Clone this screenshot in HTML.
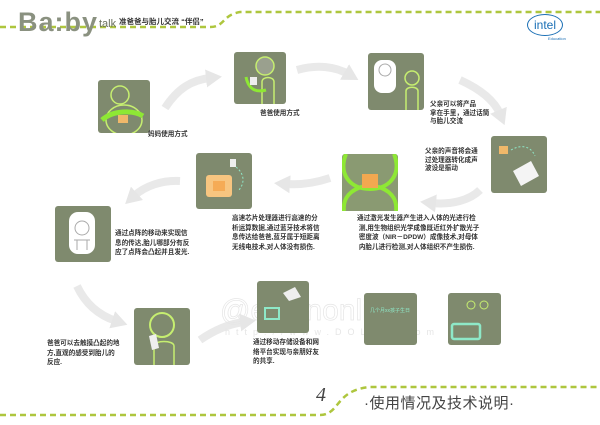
<!DOCTYPE html>
<html><head><meta charset="utf-8"><style>
body{margin:0;width:600px;height:425px;background:#fff;overflow:hidden;position:relative;font-family:"Liberation Sans","Noto Sans CJK SC",sans-serif}
.b{position:absolute;background:#7f8a6e;border-radius:3px}
.t{position:absolute;font-size:6.6px;font-weight:bold;color:#333;line-height:9.5px;white-space:nowrap}
svg{position:absolute;left:0;top:0}
</style></head><body>
<svg width="600" height="425">
<defs><marker id="ah" markerUnits="userSpaceOnUse" markerWidth="16" markerHeight="18" refX="4" refY="9" orient="auto"><path d="M0,0L16,9L0,18z" fill="#e6e6e6"/></marker></defs>
<g fill="none" stroke="#aec63e" stroke-width="2.5" stroke-dasharray="6,4">
<path d="M0,27H210C225,27 222,15 240,12H600"/>
<path d="M0,415H320C340,415 335,390 370,387H600"/>
</g>
<g fill="none" stroke="#e9e9e9" stroke-width="8" marker-end="url(#ah)">
<path d="M165,108C178,88 192,80 210,78"/>
<path d="M297,70C318,64 336,67 348,74"/>
<path d="M460,80C482,90 495,102 500,114"/>
<path d="M480,190C470,200 452,205 432,203"/>
<path d="M330,178C315,183 300,185 286,184"/>
<path d="M180,181C162,180 145,186 134,196"/>
<path d="M77,286C85,303 98,315 116,321"/>
<path d="M200,340C213,331 228,324 244,322"/>
</g>
<text x="220" y="320" font-size="30" fill="none" stroke="#e6e6e6" stroke-width="0.7" font-family="Liberation Sans">@esignonline</text>
<text x="225" y="335" font-size="9" fill="#e6e6e6" letter-spacing="6">http://www.DOLCN.com</text>
</svg>
<div style="position:absolute;left:18px;top:7px;font-size:27px;color:#8a9180;font-weight:bold;letter-spacing:1px;line-height:30px">Ba:by</div>
<div style="position:absolute;left:99px;top:18px;font-size:11px;color:#6b7160">talk</div>
<div style="position:absolute;left:119px;top:16px;font-size:7.5px;font-weight:bold;color:#333">准爸爸与胎儿交流 “伴侣”</div>
<div style="position:absolute;left:527px;top:14px;width:34px;height:20px;border:1.5px solid #1a6fb5;border-radius:50%;color:#1a6fb5;font-size:12px;text-align:center;line-height:20px">intel</div>
<div style="position:absolute;left:548px;top:36px;font-size:4px;color:#1a6fb5">Education</div>

<div class="b" style="left:98px;top:80px;width:52px;height:53px"><svg width="52" height="53"><circle cx="22" cy="15" r="9" fill="none" stroke="#c6ee70" stroke-width="1.5"/><ellipse cx="26" cy="40" rx="18" ry="15" fill="none" stroke="#c6ee70" stroke-width="1.5"/><path d="M4,40C15,30 35,30 45,36" stroke="#8ee834" stroke-width="5" fill="none"/><rect x="20" y="35" width="10" height="8" fill="#f0b86a"/></svg></div>
<div class="b" style="left:234px;top:52px;width:52px;height:52px"><svg width="52" height="52"><circle cx="31" cy="14" r="9" fill="#9aa08e" stroke="#c6ee70" stroke-width="1.5"/><path d="M28,52V30C28,24 40,24 40,30V52" stroke="#c6ee70" stroke-width="1.5" fill="none"/><path d="M12,25C15,40 25,40 32,38" stroke="#8ee834" stroke-width="3" fill="none"/><rect x="16" y="25" width="7" height="8" fill="#eee"/></svg></div>
<div class="b" style="left:368px;top:53px;width:56px;height:57px"><svg width="56" height="57"><rect x="6" y="7" width="22" height="33" rx="8" fill="#fff"/><circle cx="17" cy="17" r="6" fill="none" stroke="#aaa"/><circle cx="44" cy="25" r="7" fill="none" stroke="#c6ee70" stroke-width="1.5"/><path d="M38,57V38C38,33 50,33 50,38V57" stroke="#c6ee70" stroke-width="1.5" fill="none"/></svg></div>
<div class="b" style="left:491px;top:136px;width:56px;height:57px"><svg width="56" height="57"><rect x="8" y="10" width="9" height="8" fill="#f0b86a"/><path d="M20,14C30,8 40,10 44,20" stroke="#8ee8c8" stroke-dasharray="2,2" fill="none"/><path d="M22,35L40,25L48,40L30,50z" fill="#f4f4f4"/></svg></div>
<div class="b" style="left:342px;top:154px;width:56px;height:57px;background:#8a9a72"><svg width="56" height="57"><path d="M4,0C-4,20 8,35 28,35C48,35 60,20 52,0M2,57C0,40 15,32 28,32C41,32 56,40 54,57" stroke="#8ee834" stroke-width="4" fill="none"/><rect x="20" y="20" width="16" height="14" fill="#f2a850"/></svg></div>
<div class="b" style="left:196px;top:153px;width:56px;height:56px"><svg width="56" height="56"><rect x="10" y="22" width="26" height="22" rx="3" fill="#f7c580"/><rect x="17" y="28" width="12" height="10" fill="#f39a3a" opacity=".6"/><rect x="34" y="6" width="6" height="8" fill="#eee"/><path d="M40,14C50,22 48,32 42,38" stroke="#8ee8c8" stroke-dasharray="2,2" fill="none"/></svg></div>
<div class="b" style="left:55px;top:206px;width:56px;height:56px"><svg width="56" height="56"><rect x="14" y="6" width="26" height="42" rx="9" fill="#fff"/><circle cx="27" cy="22" r="7" fill="none" stroke="#aaa"/><path d="M19,34H35M22,34V44M32,34V44" stroke="#aaa" fill="none"/></svg></div>
<div class="b" style="left:134px;top:308px;width:56px;height:57px"><svg width="56" height="57"><circle cx="28" cy="17" r="12" fill="none" stroke="#c6ee70" stroke-width="2"/><path d="M20,57V38C20,32 40,32 40,38V57" stroke="#c6ee70" stroke-width="1.5" fill="none"/><path d="M15,28L22,26L25,40L18,42z" fill="#eee"/></svg></div>
<div class="b" style="left:257px;top:281px;width:52px;height:52px"><svg width="52" height="52"><rect x="8" y="27" width="14" height="11" fill="none" stroke="#8ee8c8" stroke-width="2"/><path d="M26,12L38,6L44,16L32,20z" fill="#eee"/></svg></div>
<div class="b" style="left:364px;top:293px;width:53px;height:52px"><div style="font-size:5px;color:#8ee8c8;margin:14px 0 0 6px">几个月xx孩子生日</div></div>
<div class="b" style="left:448px;top:293px;width:53px;height:52px"><svg width="53" height="52"><rect x="4" y="31" width="28" height="15" rx="2" fill="none" stroke="#8ee8c8" stroke-width="2.5"/><circle cx="23" cy="12" r="4" fill="none" stroke="#c6ee70"/><circle cx="36" cy="12" r="4" fill="none" stroke="#c6ee70"/></svg></div>

<div class="t" style="left:148px;top:130px">妈妈使用方式</div>
<div class="t" style="left:260px;top:109px">爸爸使用方式</div>
<div class="t" style="left:430px;top:101px;line-height:8.5px">父亲可以将产品<br>拿在手里，通过话筒<br>与胎儿交流</div>
<div class="t" style="left:425px;top:148px;line-height:8.5px">父亲的声音将会通<br>过处理器转化成声<br>波设是振动</div>
<div class="t" style="left:357px;top:214px">通过激光发生器产生进入人体的光进行检<br>&nbsp;测,用生物组织光学成像既近红外扩散光子<br>&nbsp;密度波（NIR－DPDW）成像技术,对母体<br>&nbsp;内胎儿进行检测,对人体组织不产生损伤.</div>
<div class="t" style="left:232px;top:214px">高速芯片处理器进行高速的分<br>析运算数据,通过蓝牙技术将信<br>息传达给爸爸,蓝牙属于短距离<br>无线电技术,对人体没有损伤.</div>
<div class="t" style="left:115px;top:229px">通过点阵的移动来实现信<br>息的传达,胎儿哪部分有反<br>应了点阵会凸起并且发光.</div>
<div class="t" style="left:47px;top:339px">爸爸可以去触摸凸起的地<br>方,直观的感受到胎儿的<br>反应.</div>
<div class="t" style="left:253px;top:338px">通过移动存储设备和网<br>络平台实现与亲朋好友<br>的共享.</div>

<div style="position:absolute;left:316px;top:384px;font-size:20px;font-style:italic;color:#444;font-family:'Liberation Serif',serif">4</div>
<div style="position:absolute;left:364px;top:392px;font-size:15px;color:#444;letter-spacing:0.5px">·使用情况及技术说明·</div>
</body></html>
